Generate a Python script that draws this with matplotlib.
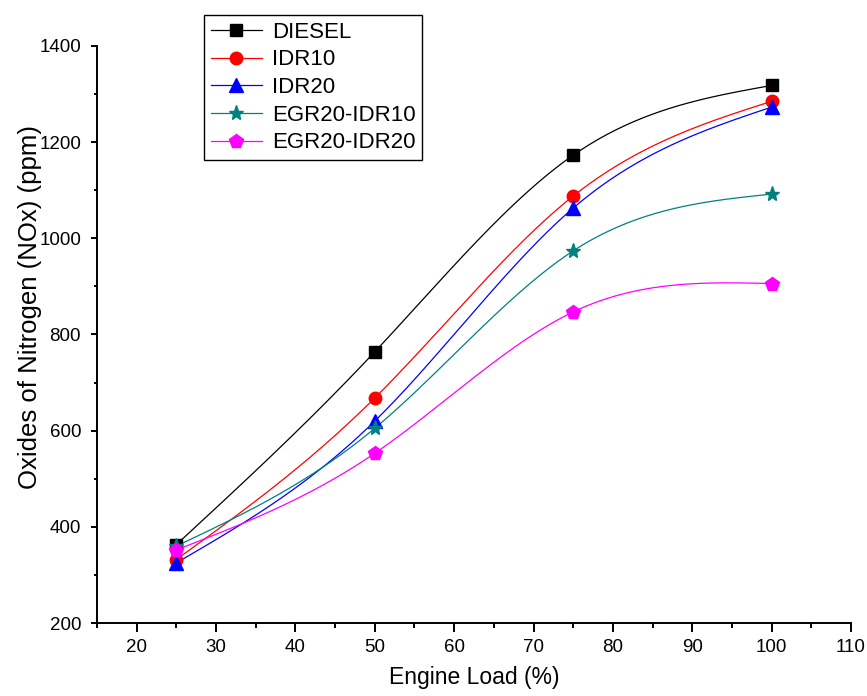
import numpy as np
import matplotlib
matplotlib.use('Agg')
import matplotlib.pyplot as plt
from matplotlib.ticker import MultipleLocator

plt.rcParams['font.family'] = ['Liberation Sans', 'DejaVu Sans']

# Dados
carga = [25, 50, 75, 100]
diesel = [363, 764, 1173, 1318]
idr10 = [332, 668, 1088, 1285]
idr20 = [325, 620, 1063, 1273]
egr20_idr10 = [360, 605, 974, 1092]
egr20_idr20 = [352, 553, 847, 906]

series = [
    ('DIESEL', diesel, 'black', 's', 8),
    ('IDR10', idr10, 'red', 'o', 9),
    ('IDR20', idr20, 'blue', '^', 9.5),
    ('EGR20-IDR10', egr20_idr10, '#008080', '*', 11),
    ('EGR20-IDR20', egr20_idr20, '#FF00FF', 'p', 10),
]


def spline_natural(x, y, n=200):
    # spline cubica natural, so para desenhar a linha entre os pontos
    x = np.asarray(x, float)
    y = np.asarray(y, float)
    k = len(x)
    h = np.diff(x)
    A = np.zeros((k, k))
    b = np.zeros(k)
    A[0, 0] = 1
    A[-1, -1] = 1
    for i in range(1, k - 1):
        A[i, i - 1] = h[i - 1]
        A[i, i] = 2 * (h[i - 1] + h[i])
        A[i, i + 1] = h[i]
        b[i] = 6 * ((y[i + 1] - y[i]) / h[i] - (y[i] - y[i - 1]) / h[i - 1])
    M = np.linalg.solve(A, b)
    xs = np.linspace(x[0], x[-1], n)
    idx = np.clip(np.searchsorted(x, xs) - 1, 0, k - 2)
    x0, x1 = x[idx], x[idx + 1]
    hh = x1 - x0
    ys = (M[idx] * (x1 - xs) ** 3 / (6 * hh) + M[idx + 1] * (xs - x0) ** 3 / (6 * hh)
          + (y[idx] / hh - M[idx] * hh / 6) * (x1 - xs)
          + (y[idx + 1] / hh - M[idx + 1] * hh / 6) * (xs - x0))
    return xs, ys


fig = plt.figure(figsize=(8.67, 6.96), dpi=100)
ax = fig.add_axes([97 / 867, 1 - 623 / 696, (851 - 97) / 867, (623 - 46) / 696])

handles = []
for nome, vals, cor, mk, ms in series:
    xs, ys = spline_natural(carga, vals)
    ax.plot(xs, ys, color=cor, lw=0.9, zorder=2)
    ax.plot(carga, vals, linestyle='none', marker=mk, color=cor, ms=ms, zorder=3)
    h, = ax.plot([], [], color=cor, lw=0.9, marker=mk, ms=ms, label=nome)
    handles.append(h)

ax.set_xlim(15, 110)
ax.set_ylim(200, 1400)
ax.xaxis.set_major_locator(MultipleLocator(10))
ax.xaxis.set_minor_locator(MultipleLocator(5))
ax.yaxis.set_major_locator(MultipleLocator(200))
ax.yaxis.set_minor_locator(MultipleLocator(100))
ax.set_xticks(range(20, 111, 10))

for lado in ['top', 'right']:
    ax.spines[lado].set_visible(False)
for lado in ['left', 'bottom']:
    ax.spines[lado].set_linewidth(1.4)

ax.tick_params(axis='x', which='major', direction='out', length=6.5, width=1.4, labelsize=13.5, pad=5)
ax.tick_params(axis='x', which='minor', direction='out', length=3.5, width=1.4)
ax.tick_params(axis='y', which='major', direction='out', length=4.5, width=1.4, labelsize=13.5, pad=7)
ax.tick_params(axis='y', which='minor', direction='out', length=2.5, width=1.4)

ax.set_xlabel('Engine Load (%)', fontsize=16.5, labelpad=7)
ax.set_ylabel('Oxides of Nitrogen (NOx) (ppm)', fontsize=18.5)
ax.yaxis.set_label_coords(-0.073, 0.548)

leg = ax.legend(handles=handles, loc='upper left', bbox_to_anchor=(204 / 867, 1 - 15 / 696),
                bbox_transform=fig.transFigure, borderaxespad=0, fontsize=16,
                fancybox=False, edgecolor='black', framealpha=1, handlelength=2.3,
                labelspacing=0.3, handletextpad=0.45, borderpad=0.3)
leg.get_frame().set_linewidth(1.0)

fig.savefig('out.png', dpi=100)
